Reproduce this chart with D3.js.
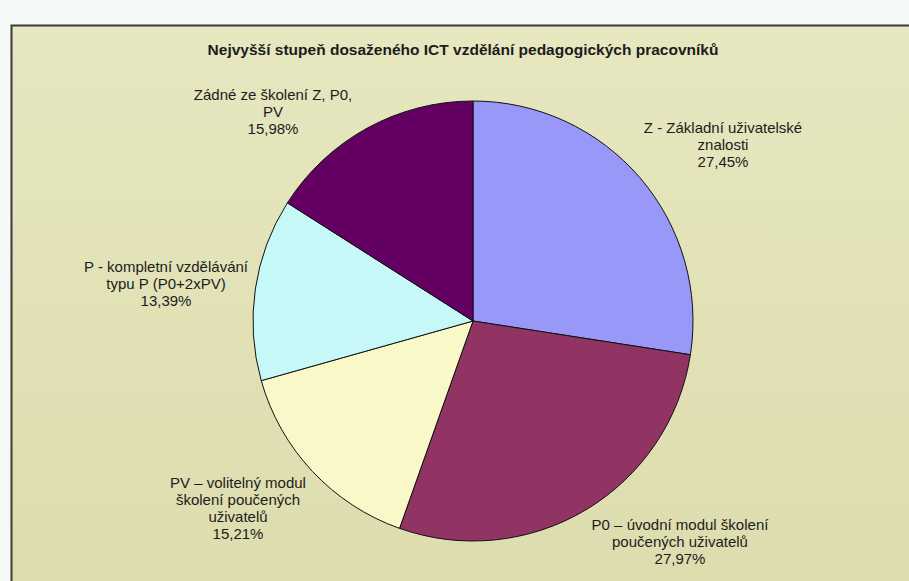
<!DOCTYPE html>
<html>
<head>
<meta charset="utf-8">
<script src="https://cdn.jsdelivr.net/npm/d3@7"></script>
<style>
  body { margin: 0; background: #f5f9f6; }
  svg { display: block; }
  text { font-family: "Liberation Sans", Arial, sans-serif; fill: #1c1c1c; }
</style>
</head>
<body>
<div id="chart"></div>
<script>
// categories, in clockwise order from 12 o'clock
const categories = [
    "Z - Základní uživatelské znalosti",
    "P0 – úvodní modul školení poučených uživatelů",
    "PV – volitelný modul školení poučených uživatelů",
    "P - kompletní vzdělávání typu P (P0+2xPV)",
    "Zádné ze školení Z, P0, PV"
];
const shares = [27.45, 27.97, 15.21, 13.39, 15.98];
// how the labels wrap in the picture
const labelLines = [
    ["Z - Základní uživatelské", "znalosti"],
    ["P0 – úvodní modul školení", "poučených uživatelů"],
    ["PV – volitelný modul", "školení poučených", "uživatelů"],
    ["P - kompletní vzdělávání", "typu P (P0+2xPV)"],
    ["Zádné ze školení Z, P0,", "PV"]
];
const title = "Nejvyšší stupeň dosaženého ICT vzdělání pedagogických pracovníků";

const W = 909, H = 581;
const cx = 473, cy = 321, radius = 220;

const colors = ["#9898f8", "#913363", "#f8f8c8", "#c6f8f8", "#630061"];
// label anchor offsets from pie centre (Excel placed them by hand)
const labelOffset = [[250, -188], [207, 209], [-235, 167], [-307, -49], [-200, -221]];
const lineH = 17;

const svg = d3.select("#chart")
    .append("svg")
    .attr("width", W)
    .attr("height", H);

const defs = svg.append("defs");
const grad = defs.append("linearGradient")
    .attr("id", "bg")
    .attr("x1", 0).attr("y1", 0).attr("x2", 0).attr("y2", 1);
grad.append("stop").attr("offset", "0%").attr("stop-color", "#e7e7c0");
grad.append("stop").attr("offset", "100%").attr("stop-color", "#dddcad");

// chart frame
svg.append("rect")
    .attr("x", 11.5)
    .attr("y", 25.5)
    .attr("width", W + 20)
    .attr("height", H)
    .attr("fill", "url(#bg)")
    .attr("stroke", "#3a3a3a")
    .attr("stroke-width", 2);

svg.append("text")
    .attr("x", 463)
    .attr("y", 55)
    .attr("text-anchor", "middle")
    .attr("font-size", "15.5px")
    .attr("font-weight", "bold")
    .text(title);

const pie = d3.pie()
    .sort(null)
    .value(d => d);

const arc = d3.arc()
    .innerRadius(0)
    .outerRadius(radius);

const arcs = pie(shares);

const g = svg.append("g")
    .attr("transform", `translate(${cx}, ${cy})`);

g.selectAll("path")
    .data(arcs)
    .enter()
    .append("path")
    .attr("d", arc)
    .attr("fill", (d, i) => colors[i])
    .attr("stroke", "#111")
    .attr("stroke-width", 1);

// data labels
const fmt = v => v.toFixed(2).replace(".", ",") + "%";

const labels = g.selectAll("g.label")
    .data(arcs)
    .enter()
    .append("g")
    .attr("class", "label")
    .attr("transform", (d, i) => `translate(${labelOffset[i][0]}, ${labelOffset[i][1]})`);

labels.append("text")
    .attr("text-anchor", "middle")
    .attr("font-size", "15px")
    .selectAll("tspan")
    .data((d, i) => labelLines[i].concat([fmt(d.data)]))
    .enter()
    .append("tspan")
    .attr("x", 0)
    .attr("y", (d, j) => j * lineH)
    .text(d => d);
</script>
</body>
</html>
